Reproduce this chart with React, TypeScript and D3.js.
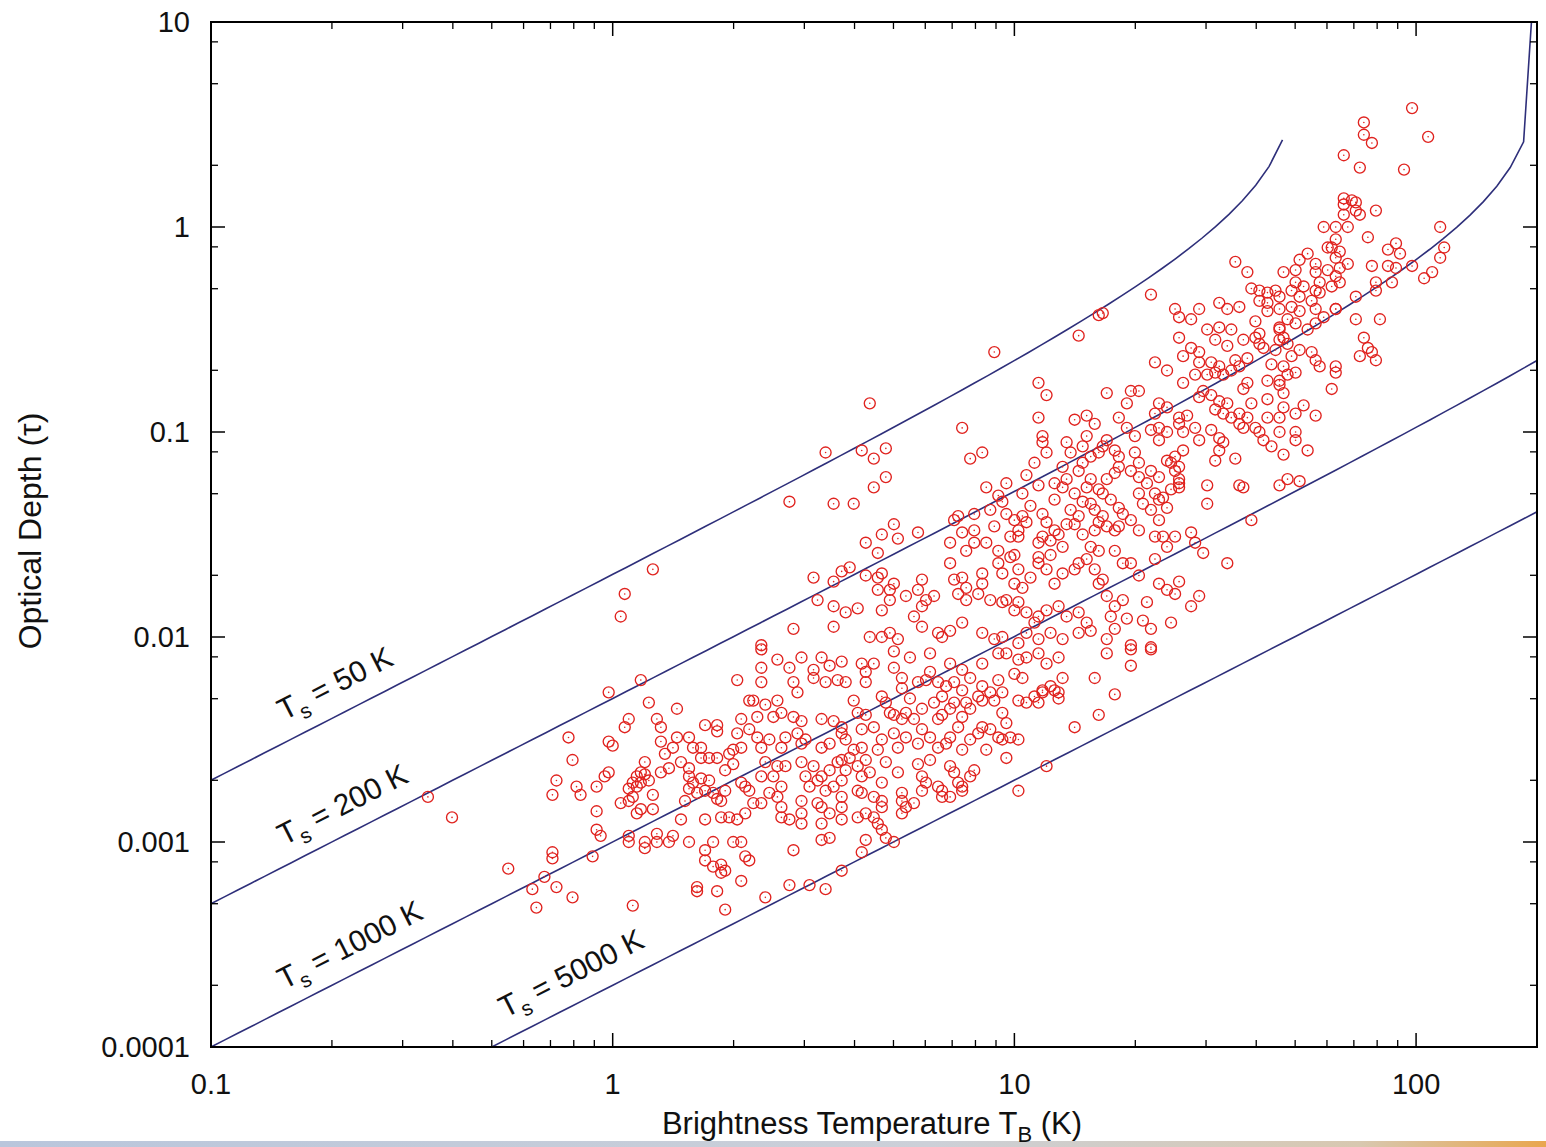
import React from "react";
import * as d3 from "d3";

// ---------- axis data ----------
const xDomain: [number, number] = [0.1, 200];
const yDomain: [number, number] = [0.0001, 10];
const xTickValues = [0.1, 1, 10, 100];
const xTickLabels = ["0.1", "1", "10", "100"];
const yTickValues = [0.0001, 0.001, 0.01, 0.1, 1, 10];
const yTickLabels = ["0.0001", "0.001", "0.01", "0.1", "1", "10"];
const xMinorMultipliers = [2, 3, 4, 5, 6, 7, 8, 9];
const yMinorMultipliers = [2, 5, 8];
const xTitle = "Brightness Temperature T";
const xTitleSub = "B";
const yTitle = "Optical Depth (\u03c4)";

// ---------- model curves: tau = -ln(1 - T_B / T_s) ----------
const spinTemperatures = [50, 200, 1000, 5000];
const curveSamples = 100;
const steepEndTau = 26; // last sample of the 200 K curve, off the top of the plot
// label anchors [T_B, tau] for the start of each rotated label
const curveLabelTB = [0.152, 0.152, 0.152, 0.54];
const curveLabelTau = [0.0039, 0.00096, 0.00019, 0.000138];
const curveLabelText = ["= 50 K", "= 200 K", "= 1000 K", "= 5000 K"];

// ---------- observed points: [log10 T_B, log10 tau] ----------
const lowLeftPoints: [number, number][] = [
  [0.07,-2.21],[-0.01,-2.27],[0.09,-2.32],[0.16,-2.35],[0.31,-2.21],[0.34,-2.31],[0.04,-2.40],[0.03,-2.44],
  [0.11,-2.40],[0.12,-2.44],[0.23,-2.43],[0.26,-2.43],[0.26,-2.46],[0.31,-2.47],[0.32,-2.40],[-0.11,-2.49],
  [-0.01,-2.51],[0.00,-2.53],[0.12,-2.51],[0.15,-2.54],[0.16,-2.49],[0.19,-2.49],[0.20,-2.54],[0.22,-2.54],
  [0.22,-2.59],[0.24,-2.59],[0.26,-2.59],[0.30,-2.55],[0.32,-2.54],[0.29,-2.57],[-0.10,-2.60],[0.08,-2.61],
  [0.07,-2.66],[0.06,-2.68],[0.05,-2.71],[0.08,-2.67],[0.09,-2.70],[0.12,-2.66],[0.14,-2.64],[0.19,-2.64],
  [0.19,-2.68],[0.20,-2.71],[0.22,-2.69],[0.24,-2.70],[0.28,-2.65],[-0.14,-2.70],[-0.15,-2.77],[-0.09,-2.73],
  [-0.08,-2.77],[-0.04,-2.73],[-0.02,-2.68],[-0.01,-2.66],[0.04,-2.74],[0.06,-2.73],[0.07,-2.71],[0.05,-2.78],
  [0.04,-2.80],[0.02,-2.81],[0.19,-2.74],[0.21,-2.76],[0.23,-2.75],[0.25,-2.76],[0.26,-2.79],[0.27,-2.80],
  [0.32,-2.71],[0.33,-2.73],[-0.46,-2.78],[-0.40,-2.88],[-0.04,-2.85],[-0.04,-2.94],[-0.03,-2.97],[0.06,-2.86],
  [0.07,-2.84],[0.10,-2.84],[0.17,-2.89],[0.23,-2.89],[0.27,-2.88],[0.29,-2.88],[0.31,-2.89],[0.33,-2.86],
  [0.04,-2.97],[0.04,-3.00],[0.08,-3.00],[0.08,-3.03],[0.11,-3.00],[0.11,-2.96],[0.14,-3.00],[0.15,-2.97],
  [0.19,-3.00],[0.23,-3.04],[0.25,-3.00],[0.30,-3.00],[0.32,-3.00],[0.33,-3.07],[-0.05,-3.07],[-0.15,-3.05],
  [-0.15,-3.08],[-0.17,-3.17],[-0.26,-3.13],[-0.20,-3.23],[-0.19,-3.32],[-0.14,-3.22],[-0.10,-3.27],[0.05,-3.31],
  [0.23,-3.09],[0.25,-3.12],[0.27,-3.11],[0.27,-3.15],[0.28,-3.14],[0.21,-3.22],[0.21,-3.24],[0.26,-3.24],
  [0.28,-3.33],[0.32,-3.19],[0.10,-1.67],[0.03,-1.79],[0.02,-1.90],
  [0.13,-2.57],[0.17,-2.61],[0.28,-2.75],[0.10,-2.77],[0.18,-2.80],[0.30,-2.62],
];

const middleUpperPoints: [number, number][] = [
  [0.64,-0.86],[0.53,-1.10],[0.62,-1.09],[0.65,-1.13],[0.68,-1.08],[0.87,-0.98],[0.89,-1.13],[0.92,-1.10],
  [0.68,-1.22],[0.65,-1.27],[0.44,-1.34],[0.55,-1.35],[0.60,-1.35],[1.06,-0.76],[1.08,-0.82],[1.06,-0.93],
  [1.15,-0.94],[1.18,-0.92],[1.20,-0.96],[1.13,-1.05],[1.18,-1.02],[1.07,-1.02],[1.07,-1.05],[1.08,-1.10],
  [1.05,-1.15],[1.03,-1.21],[1.06,-1.26],[1.10,-1.25],[1.12,-1.27],[1.13,-1.23],[1.16,-1.19],[1.17,-1.15],
  [1.21,-1.10],[0.96,-1.31],[0.97,-1.34],[0.94,-1.38],[0.90,-1.40],[0.86,-1.41],[0.85,-1.43],[0.87,-1.49],
  [0.70,-1.45],[0.71,-1.52],[0.76,-1.49],[0.67,-1.50],[0.63,-1.54],[0.66,-1.59],[0.84,-1.54],[0.90,-1.54],
  [0.93,-1.54],[0.98,-1.40],[1.00,-1.43],[1.02,-1.41],[1.03,-1.44],[1.01,-1.48],[0.99,-1.51],[1.01,-1.51],
  [1.07,-1.40],[1.08,-1.44],[1.10,-1.48],[1.11,-1.50],[1.09,-1.53],[1.07,-1.51],[1.06,-1.54],[1.19,-1.23],
  [1.21,-1.28],[1.17,-1.34],[1.19,-1.35],[1.14,-1.38],[1.16,-1.41],[1.20,-1.38],[1.21,-1.44],[1.15,-1.45],
  [1.20,-1.48],[0.50,-1.71],[0.57,-1.68],[0.59,-1.66],[0.55,-1.73],[0.51,-1.82],[0.55,-1.85],[0.58,-1.88],
  [0.61,-1.86],[0.45,-1.96],[0.55,-1.95],[0.37,-2.04],[0.63,-1.70],[0.66,-1.71],[0.67,-1.69],[0.66,-1.77],
  [0.69,-1.77],[0.70,-1.74],[0.69,-1.82],[0.67,-1.87],[0.73,-1.80],[0.76,-1.77],[0.77,-1.72],[0.78,-1.82],
  [0.77,-1.85],[0.80,-1.80],[0.84,-1.64],[0.85,-1.72],[0.87,-1.71],[0.88,-1.76],[0.86,-1.79],[0.88,-1.82],
  [0.91,-1.79],[0.92,-1.74],[0.92,-1.69],[0.96,-1.64],[0.97,-1.69],[0.99,-1.61],[1.01,-1.67],[1.00,-1.74],
  [1.02,-1.76],[1.04,-1.71],[1.06,-1.64],[1.06,-1.61],[1.08,-1.67],[1.10,-1.74],[1.12,-1.69],[1.15,-1.67],
  [1.16,-1.64],[1.18,-1.62],[1.20,-1.67],[1.21,-1.74],[0.94,-1.82],[0.97,-1.83],[0.98,-1.82],[1.00,-1.87],
  [1.01,-1.83],[1.03,-1.88],[1.05,-1.93],[1.06,-1.90],[1.08,-1.87],[1.11,-1.85],[1.13,-1.90],[1.16,-1.88],
  [1.18,-1.93],[0.75,-1.90],[0.77,-1.95],[0.81,-1.98],[0.82,-2.00],[0.84,-1.97],[0.87,-1.93],[0.92,-1.98],
  [0.95,-2.01],[0.97,-2.00],[1.01,-2.03],[1.03,-1.98],[1.06,-2.01],[1.09,-1.98],[1.12,-2.01],[1.16,-1.98],
  [1.19,-1.97],[0.64,-2.00],[0.67,-2.00],[0.69,-1.98],[0.71,-2.01],[0.95,-0.61],[1.16,-0.53],[1.21,-0.43],
  [1.14,-1.10],[1.17,-1.07],[1.19,-1.12],[1.12,-1.17],[1.15,-1.30],[1.18,-1.27],[1.10,-1.33],[1.13,-1.45],
  [1.17,-1.50],[1.12,-1.56],[1.19,-1.56],[1.09,-1.60],[0.93,-1.27],[0.98,-1.25],[1.02,-1.30],[0.95,-1.46],
  [0.90,-1.48],[1.04,-1.36],[0.88,-1.58],[0.96,-1.58],[1.00,-1.60],
];

const rightMiddlePoints: [number, number][] = [
  [1.23,-0.81],[1.29,-0.80],[1.31,-0.80],[1.28,-0.86],[1.42,-0.76],[1.36,-0.86],[1.38,-0.88],[1.26,-0.93],
  [1.28,-0.98],[1.30,-1.02],[1.23,-1.04],[1.22,-1.07],[1.25,-1.09],[1.26,-1.12],[1.35,-0.91],[1.36,-0.98],
  [1.38,-1.00],[1.36,-1.04],[1.34,-0.99],[1.41,-0.93],[1.43,-0.92],[1.45,-0.98],[1.42,-1.00],[1.41,-0.96],
  [1.46,-1.04],[1.49,-0.99],[1.51,-1.03],[1.52,-1.05],[1.51,-1.09],[1.50,-1.14],[1.42,-1.09],[1.40,-1.12],
  [1.39,-1.15],[1.41,-1.17],[1.47,-0.80],[1.48,-0.72],[1.50,-0.71],[1.52,-0.72],[1.54,-0.70],[1.46,-0.83],
  [1.49,-0.82],[1.51,-0.85],[1.53,-0.86],[1.50,-0.89],[1.52,-0.91],[1.54,-0.93],[1.56,-0.91],[1.58,-0.93],
  [1.58,-0.76],[1.57,-0.79],[1.63,-0.75],[1.66,-0.75],[1.68,-0.72],[1.70,-0.71],[1.67,-0.81],[1.66,-0.77],
  [1.63,-0.84],[1.59,-0.86],[1.56,-0.96],[1.57,-0.98],[1.60,-0.98],[1.61,-1.00],[1.63,-0.93],[1.66,-0.93],
  [1.67,-0.88],[1.70,-0.91],[1.72,-0.87],[1.75,-0.92],[1.62,-1.04],[1.64,-1.07],[1.67,-1.11],[1.66,-1.00],
  [1.70,-1.00],[1.70,-1.04],[1.73,-1.09],[1.79,-0.79],[1.80,-0.71],[1.55,-1.13],[1.48,-1.26],[1.48,-1.35],
  [1.56,-1.26],[1.57,-1.27],[1.66,-1.26],[1.68,-1.23],[1.71,-1.24],[1.59,-1.43],[1.53,-1.64],[1.47,-1.59],
  [1.45,-1.54],[1.44,-1.49],[1.30,-1.10],[1.31,-1.15],[1.34,-1.19],[1.36,-1.22],[1.38,-1.14],[1.40,-1.19],
  [1.41,-1.25],[1.39,-1.28],[1.37,-1.32],[1.35,-1.30],[1.33,-1.25],[1.31,-1.22],[1.29,-1.19],[1.26,-1.17],
  [1.25,-1.20],[1.23,-1.23],[1.22,-1.30],[1.24,-1.33],[1.26,-1.37],[1.27,-1.40],[1.29,-1.43],[1.26,-1.46],
  [1.25,-1.48],[1.23,-1.46],[1.22,-1.41],[1.31,-1.30],[1.32,-1.35],[1.34,-1.38],[1.36,-1.33],[1.38,-1.37],
  [1.36,-1.43],[1.31,-1.48],[1.35,-1.51],[1.37,-1.51],[1.40,-1.51],[1.38,-1.56],[1.41,-1.27],[1.41,-1.23],
  [1.27,-1.64],[1.29,-1.64],[1.35,-1.62],[1.36,-1.74],[1.38,-1.77],[1.40,-1.79],[1.41,-1.73],[1.46,-1.80],
  [1.39,-1.93],[1.34,-1.96],[1.33,-1.83],[1.27,-1.82],[1.25,-1.85],[1.23,-1.80],[1.28,-1.91],[1.25,-1.96],
  [1.22,-1.72],[1.23,-2.01],[1.29,-2.04],[1.34,-2.05],[1.21,-1.58],[1.25,-1.58],
  [1.23,-2.08],[1.29,-2.14],[1.25,-2.28],[1.21,-2.38],[1.34,-2.06],[1.29,-2.06],
  [1.31,-1.70],[1.24,-1.90],[1.32,-1.92],[1.44,-1.85],
];

const upperRightPoints: [number, number][] = [
  [1.99,0.58],[1.87,0.51],[1.87,0.45],[1.89,0.41],[2.03,0.44],[1.82,0.35],[1.86,0.29],[1.97,0.28],
  [1.82,0.14],[1.84,0.13],[1.85,0.12],[1.82,0.11],[1.85,0.08],[1.82,0.06],[1.86,0.06],[1.90,0.08],
  [1.77,0.00],[1.80,-0.00],[1.83,0.00],[1.88,-0.05],[1.80,-0.06],[1.79,-0.10],[1.81,-0.12],[1.80,-0.15],
  [1.83,-0.18],[1.81,-0.20],[1.78,-0.10],[2.06,0.00],[1.93,-0.11],[1.95,-0.08],[1.96,-0.13],[2.07,-0.10],
  [2.06,-0.15],[1.89,-0.19],[1.93,-0.19],[1.95,-0.20],[1.99,-0.19],[2.02,-0.25],[2.04,-0.22],[1.90,-0.27],
  [1.55,-0.17],[1.58,-0.22],[1.67,-0.22],[1.70,-0.21],[1.71,-0.16],[1.73,-0.13],[1.75,-0.18],[1.75,-0.22],
  [1.78,-0.21],[1.80,-0.24],[1.76,-0.27],[1.79,-0.29],[1.81,-0.27],[1.75,-0.31],[1.72,-0.29],[1.70,-0.27],
  [1.69,-0.31],[1.71,-0.34],[1.74,-0.36],[1.76,-0.32],[1.59,-0.30],[1.61,-0.31],[1.63,-0.32],[1.65,-0.31],
  [1.66,-0.34],[1.61,-0.36],[1.63,-0.37],[1.34,-0.33],[1.40,-0.40],[1.41,-0.44],[1.46,-0.40],[1.51,-0.37],
  [1.53,-0.40],[1.56,-0.39],[1.63,-0.41],[1.66,-0.40],[1.69,-0.39],[1.71,-0.41],[1.75,-0.40],[1.77,-0.44],
  [1.80,-0.40],[1.75,-0.47],[1.73,-0.50],[1.70,-0.47],[1.68,-0.45],[1.66,-0.49],[1.85,-0.34],[1.90,-0.31],
  [1.94,-0.27],[1.85,-0.45],[1.91,-0.45],[1.87,-0.54],[1.88,-0.59],[1.89,-0.61],[1.86,-0.63],[1.90,-0.65],
  [1.80,-0.40],[1.48,-0.50],[1.51,-0.49],[1.54,-0.50],[1.57,-0.55],[1.60,-0.54],[1.61,-0.52],[1.61,-0.57],
  [1.66,-0.50],[1.67,-0.54],[1.66,-0.55],[1.68,-0.57],[1.65,-0.60],[1.62,-0.59],[1.41,-0.54],[1.44,-0.59],
  [1.46,-0.61],[1.42,-0.63],[1.35,-0.66],[1.46,-0.66],[1.49,-0.66],[1.51,-0.68],[1.55,-0.65],[1.56,-0.68],
  [1.71,-0.60],[1.74,-0.61],[1.75,-0.65],[1.76,-0.68],[1.80,-0.68],[1.69,-0.63],[1.67,-0.68],[1.22,-0.42],
  [1.44,-0.45],[1.50,-0.55],[1.53,-0.58],[1.58,-0.64],[1.60,-0.46],[1.64,-0.67],[1.38,-0.70],[1.45,-0.72],
];

const middleLowerPoints: [number, number][] = [
  [0.37,-2.06],[0.41,-2.11],[0.44,-2.15],[0.47,-2.10],[0.50,-2.16],[0.52,-2.10],[0.54,-2.14],[0.57,-2.12],
  [0.62,-2.13],[0.65,-2.13],[0.63,-2.17],[0.70,-2.15],[0.70,-2.07],[0.72,-2.20],[0.74,-2.10],[0.79,-2.08],
  [0.84,-2.13],[0.87,-2.16],[0.89,-2.20],[0.92,-2.13],[0.96,-2.08],[0.98,-2.08],[1.01,-2.11],[1.03,-2.10],
  [1.06,-2.08],[1.08,-2.13],[1.11,-2.10],[1.12,-2.20],[1.20,-2.20],[0.37,-2.15],[0.37,-2.22],[0.45,-2.22],
  [0.46,-2.27],[0.50,-2.20],[0.53,-2.22],[0.56,-2.21],[0.58,-2.22],[0.63,-2.22],[0.72,-2.25],[0.76,-2.22],
  [0.78,-2.21],[0.81,-2.22],[0.83,-2.24],[0.85,-2.22],[0.87,-2.26],[0.91,-2.29],[0.92,-2.24],[0.96,-2.21],
  [0.97,-2.27],[1.00,-2.18],[1.02,-2.20],[1.01,-2.31],[1.03,-2.32],[1.05,-2.29],[1.07,-2.26],[1.10,-2.26],
  [1.11,-2.30],[0.35,-2.31],[0.38,-2.33],[0.41,-2.31],[0.42,-2.37],[0.40,-2.39],[0.36,-2.39],[0.60,-2.31],
  [0.67,-2.29],[0.68,-2.32],[0.45,-2.39],[0.47,-2.41],[0.52,-2.40],[0.55,-2.41],[0.57,-2.44],[0.61,-2.37],
  [0.63,-2.38],[0.65,-2.44],[0.62,-2.45],[0.69,-2.37],[0.70,-2.38],[0.72,-2.40],[0.73,-2.37],[0.75,-2.40],
  [0.77,-2.35],[0.81,-2.40],[0.82,-2.38],[0.84,-2.35],[0.85,-2.32],[0.87,-2.39],[0.88,-2.32],[0.92,-2.31],
  [0.94,-2.27],[0.95,-2.31],[0.97,-2.37],[0.98,-2.42],[1.01,-2.50],[0.99,-2.49],[0.34,-2.45],[0.36,-2.49],
  [0.37,-2.54],[0.39,-2.50],[0.42,-2.54],[0.43,-2.49],[0.46,-2.47],[0.47,-2.52],[0.48,-2.50],[0.52,-2.54],
  [0.54,-2.52],[0.57,-2.47],[0.58,-2.50],[0.60,-2.55],[0.62,-2.54],[0.63,-2.60],[0.66,-2.55],[0.67,-2.50],
  [0.70,-2.47],[0.71,-2.54],[0.73,-2.49],[0.76,-2.52],[0.77,-2.45],[0.79,-2.49],[0.81,-2.54],[0.83,-2.52],
  [0.84,-2.49],[0.87,-2.55],[0.89,-2.50],[0.91,-2.47],[0.92,-2.44],[0.94,-2.45],[0.96,-2.49],[0.97,-2.50],
  [0.93,-2.55],[0.98,-2.59],[0.38,-2.61],[0.41,-2.63],[0.43,-2.63],[0.37,-2.68],[0.40,-2.68],[0.42,-2.73],
  [0.39,-2.76],[0.37,-2.81],[0.35,-2.81],[0.34,-2.75],[0.47,-2.61],[0.50,-2.63],[0.48,-2.68],[0.51,-2.70],
  [0.49,-2.73],[0.52,-2.68],[0.54,-2.65],[0.56,-2.61],[0.57,-2.60],[0.59,-2.59],[0.58,-2.65],[0.57,-2.70],
  [0.55,-2.73],[0.53,-2.75],[0.61,-2.63],[0.62,-2.68],[0.64,-2.66],[0.61,-2.75],[0.62,-2.76],[0.65,-2.78],
  [0.67,-2.71],[0.67,-2.80],[0.67,-2.83],[0.71,-2.66],[0.76,-2.62],[0.77,-2.68],[0.78,-2.71],[0.77,-2.75],
  [0.72,-2.76],[0.72,-2.80],[0.73,-2.83],[0.72,-2.86],[0.75,-2.81],[0.81,-2.73],[0.82,-2.75],[0.84,-2.63],
  [0.85,-2.66],[0.86,-2.71],[0.87,-2.75],[0.87,-2.73],[0.89,-2.68],[0.90,-2.65],[0.82,-2.78],[0.84,-2.78],
  [0.41,-2.78],[0.42,-2.83],[0.42,-2.88],[0.44,-2.89],[0.47,-2.80],[0.47,-2.86],[0.51,-2.81],[0.52,-2.83],
  [0.54,-2.86],[0.57,-2.83],[0.57,-2.78],[0.47,-2.91],[0.52,-2.91],[0.52,-2.99],[0.54,-2.98],[0.57,-2.89],
  [0.61,-2.88],[0.63,-2.86],[0.65,-2.88],[0.66,-2.91],[0.67,-2.94],[0.63,-2.99],[0.62,-3.05],[0.68,-2.98],
  [0.70,-3.00],[0.34,-3.09],[0.45,-3.04],[0.38,-3.27],[0.44,-3.21],[0.49,-3.21],[0.53,-3.23],[0.57,-3.14],
  [1.01,-2.75],[1.15,-2.44],[1.08,-2.63],[1.06,-2.32],[1.07,-2.27],[1.09,-2.24],[1.11,-2.27],
  [0.79,-2.17],[0.82,-2.29],[0.89,-2.35],[0.86,-2.44],[0.80,-2.32],[0.74,-2.30],[0.68,-2.61],[0.79,-2.60],
];

// ---------- layout ----------
const W = 1546;
const H = 1147;
const plotLeft = 211;
const plotRight = 1537;
const plotTop = 22;
const plotBottom = 1047;
const FONT = "'Liberation Sans', Arial, Helvetica, sans-serif";
const curveColor = "#2e2f7a";
const pointColor = "#e0231f";

export default function App() {
  const x = d3.scaleLog().domain(xDomain).range([plotLeft, plotRight]);
  const y = d3.scaleLog().domain(yDomain).range([plotBottom, plotTop]);

  const allPoints = [
    ...lowLeftPoints,
    ...middleUpperPoints,
    ...rightMiddlePoints,
    ...upperRightPoints,
    ...middleLowerPoints,
  ];

  // sample grid uniform in log T_B (as the plotting program does)
  const lMin = Math.log10(xDomain[0]);
  const lMax = Math.log10(xDomain[1]);
  const grid = d3.range(curveSamples).map((i) => Math.pow(10, lMin + (i * (lMax - lMin)) / (curveSamples - 1)));

  const line = d3
    .line<[number, number]>()
    .x((d) => x(d[0]))
    .y((d) => y(d[1]));

  const curves = spinTemperatures.map((ts) => {
    const pts: [number, number][] = [];
    grid.forEach((tb) => {
      const r = tb / ts;
      if (Math.abs(r - 1) < 1e-6) {
        pts.push([tb, steepEndTau]);
      } else if (r < 1) {
        pts.push([tb, -Math.log(1 - r)]);
      }
    });
    return pts;
  });

  // ticks
  const decadesX = [0.1, 1, 10, 100];
  const xMinor: number[] = [];
  decadesX.forEach((d) =>
    xMinorMultipliers.forEach((m) => {
      const v = d * m;
      if (v < xDomain[1]) xMinor.push(v);
    })
  );
  const decadesY = [0.0001, 0.001, 0.01, 0.1, 1];
  const yMinor: number[] = [];
  decadesY.forEach((d) => yMinorMultipliers.forEach((m) => yMinor.push(d * m)));

  const majorLen = 14;
  const minorLen = 7;
  const angle = (-Math.atan((y(0.001) - y(0.01)) / (x(10) - x(1))) * 180) / Math.PI;

  return (
    <svg
      width={W}
      height={H}
      viewBox={`0 0 ${W} ${H}`}
      style={{ position: "absolute", left: 0, top: 0, background: "#fff" }}
      fontFamily={FONT}
    >
      <defs>
        <clipPath id="plotClip">
          <rect x={plotLeft} y={plotTop} width={plotRight - plotLeft} height={plotBottom - plotTop} />
        </clipPath>
        <linearGradient id="bottomStrip" x1="0" x2="1" y1="0" y2="0">
          <stop offset="0" stopColor="#b9c6dc" />
          <stop offset="0.6" stopColor="#ccd0d8" />
          <stop offset="0.88" stopColor="#d8c8b0" />
          <stop offset="1" stopColor="#e9a64e" />
        </linearGradient>
      </defs>
      <rect x={0} y={0} width={W} height={H} fill="#fff" />

      {/* bottom strip (under the text) */}
      <rect x={0} y={1141} width={W} height={6} fill="url(#bottomStrip)" />

      {/* model curves */}
      <g clipPath="url(#plotClip)">
        {curves.map((c, i) => (
          <path key={i} d={line(c) || ""} fill="none" stroke={curveColor} strokeWidth={1.6} />
        ))}
      </g>

      {/* points */}
      <g clipPath="url(#plotClip)">
        {allPoints.map((p, i) => {
          const cx = x(Math.pow(10, p[0]));
          const cy = y(Math.pow(10, p[1]));
          return (
            <g key={i}>
              <circle cx={cx} cy={cy} r={5.5} fill="none" stroke={pointColor} strokeWidth={1.35} />
              <circle cx={cx} cy={cy} r={0.8} fill={pointColor} />
            </g>
          );
        })}
      </g>

      {/* curve labels */}
      {spinTemperatures.map((ts, i) => (
        <text
          key={ts}
          transform={`translate(${x(curveLabelTB[i])},${y(curveLabelTau[i])}) rotate(${angle})`}
          fontSize={30}
          fill="#111"
        >
          T
          <tspan dy={8} fontSize={21}>
            s
          </tspan>
          <tspan dy={-8}>{" " + curveLabelText[i]}</tspan>
        </text>
      ))}

      {/* frame */}
      <rect
        x={plotLeft}
        y={plotTop}
        width={plotRight - plotLeft}
        height={plotBottom - plotTop}
        fill="none"
        stroke="#000"
        strokeWidth={2}
      />

      {/* x ticks (bottom + top) */}
      {xTickValues.map((v) => (
        <g key={"xm" + v}>
          <line x1={x(v)} x2={x(v)} y1={plotBottom} y2={plotBottom - majorLen} stroke="#000" strokeWidth={1.5} />
          <line x1={x(v)} x2={x(v)} y1={plotTop} y2={plotTop + majorLen} stroke="#000" strokeWidth={1.5} />
        </g>
      ))}
      {xMinor.map((v) => (
        <g key={"xn" + v}>
          <line x1={x(v)} x2={x(v)} y1={plotBottom} y2={plotBottom - minorLen} stroke="#000" strokeWidth={1.3} />
          <line x1={x(v)} x2={x(v)} y1={plotTop} y2={plotTop + minorLen} stroke="#000" strokeWidth={1.3} />
        </g>
      ))}
      {xTickValues.map((v, i) => (
        <text key={"xl" + v} x={x(v)} y={1094} textAnchor="middle" fontSize={29} fill="#111">
          {xTickLabels[i]}
        </text>
      ))}

      {/* y ticks (left + right) */}
      {yTickValues.map((v) => (
        <g key={"ym" + v}>
          <line x1={plotLeft} x2={plotLeft + majorLen} y1={y(v)} y2={y(v)} stroke="#000" strokeWidth={1.5} />
          <line x1={plotRight} x2={plotRight - majorLen} y1={y(v)} y2={y(v)} stroke="#000" strokeWidth={1.5} />
        </g>
      ))}
      {yMinor.map((v) => (
        <g key={"yn" + v}>
          <line x1={plotLeft} x2={plotLeft + minorLen} y1={y(v)} y2={y(v)} stroke="#000" strokeWidth={1.3} />
          <line x1={plotRight} x2={plotRight - minorLen} y1={y(v)} y2={y(v)} stroke="#000" strokeWidth={1.3} />
        </g>
      ))}
      {yTickValues.map((v, i) => (
        <text key={"yl" + v} x={190} y={y(v) + 10} textAnchor="end" fontSize={29} fill="#111">
          {yTickLabels[i]}
        </text>
      ))}

      {/* axis titles */}
      <text x={872} y={1134} textAnchor="middle" fontSize={31} fill="#111">
        {xTitle}
        <tspan dy={8} fontSize={22}>
          {xTitleSub}
        </tspan>
        <tspan dy={-8}> (K)</tspan>
      </text>
      <text transform="translate(41,531) rotate(-90)" textAnchor="middle" fontSize={32} fill="#111">
        {yTitle}
      </text>
    </svg>
  );
}
